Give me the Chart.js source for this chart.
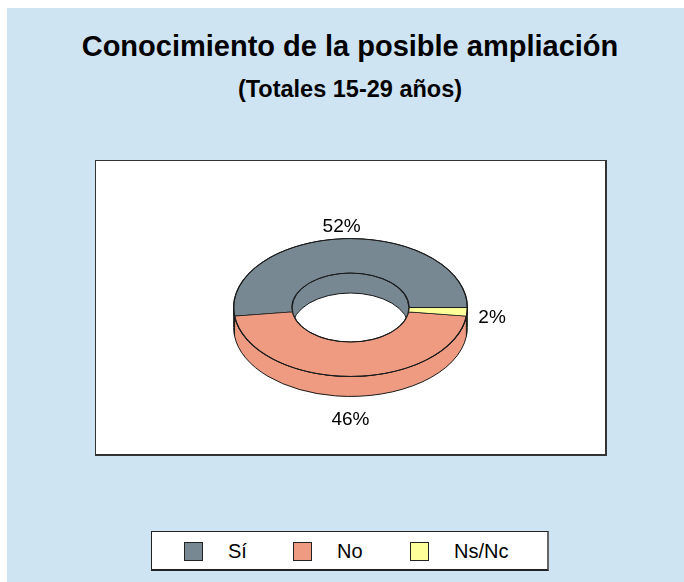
<!DOCTYPE html>
<html>
<head>
<meta charset="utf-8">
<script src="https://cdn.jsdelivr.net/npm/chart.js@4/dist/chart.umd.min.js"></script>
<style>
  body { margin: 0; background: #fff; font-family: 'Liberation Sans', Arial, sans-serif; }
  #fondo { position: absolute; left: 7px; top: 8px; width: 677px; height: 574px; background: #cfe4f3; }
  .titulo { position: absolute; left: 0; width: 700px; text-align: center; font-weight: bold; color: #000; }
  #t1 { top: 30px; font-size: 29px; }
  #t2 { top: 76px; font-size: 23.5px; }
  #caja { position: absolute; left: 95px; top: 160px; width: 509px; height: 293px; background: #fff;
          border: 1px solid #333; border-right-width: 2px; border-bottom-width: 2px; }
  #leyenda { position: absolute; left: 151px; top: 531px; width: 395px; height: 37px; background: #fff;
             border: 1px solid #222; border-right: 2px solid #666; border-bottom-width: 2px; }
  .item { position: absolute; top: 8px; font-size: 20px; line-height: 22px; }
  .item i { position: absolute; top: 2px; width: 17px; height: 17px; border: 1px solid #222; }
  .item span { position: absolute; white-space: nowrap; }
</style>
</head>
<body>
<div id="fondo"></div>
<div class="titulo" id="t1">Conocimiento de la posible ampliación</div>
<div class="titulo" id="t2">(Totales 15-29 años)</div>
<div id="caja"><canvas id="grafico" width="509" height="293"></canvas></div>
<div id="leyenda"></div>
<script>
// datos
const categorias = ['Sí', 'No', 'Ns/Nc'];
const valores = [52, 46, 2];
const colores = ['#778893', '#ee9b82', '#ffff99'];

const achatado = 0.59;   // relación alto/ancho de la elipse
const grosor = 20;       // altura del anillo en píxeles

// leyenda a mano, como en el original
const posLeyenda = [32, 141, 258];
const leyenda = document.getElementById('leyenda');
categorias.forEach(function (c, i) {
	const d = document.createElement('div');
	d.className = 'item';
	d.style.left = posLeyenda[i] + 'px';
	d.innerHTML = '<i style="background:' + colores[i] + '"></i><span style="left:44px">' + c + '</span>';
	leyenda.appendChild(d);
});

// dibuja el canto (delantero o trasero) de un sector
function canto(ctx, cx, cy, r, s, e, color, delante) {
	for (let n = -1; n <= 2; n++) {
		const base = 2 * Math.PI * n + (delante ? 0 : Math.PI);
		const lo = Math.max(s, base), hi = Math.min(e, base + Math.PI);
		if (hi <= lo) continue;
		ctx.beginPath();
		ctx.ellipse(cx, cy, r, r * achatado, 0, Math.PI - lo, Math.PI - hi, true);
		ctx.ellipse(cx, cy + grosor, r, r * achatado, 0, Math.PI - hi, Math.PI - lo, false);
		ctx.closePath();
		ctx.fillStyle = color;
		ctx.fill();
		ctx.strokeStyle = '#1a1a1a';
		ctx.lineWidth = 1;
		ctx.stroke();
	}
}

const anillo3d = {
	id: 'anillo3d',
	beforeDatasetsDraw(chart) {
		const ctx = chart.ctx;
		const arcos = chart.getDatasetMeta(0).data;
		const cx = arcos[0].x, cy = arcos[0].y;
		arcos.forEach(function (a, i) {
			canto(ctx, cx, cy, a.outerRadius, a.startAngle, a.endAngle, colores[i], true);
		});
		ctx.save();
		ctx.translate(cx, cy);
		ctx.scale(-1, achatado);
		ctx.translate(-cx, -cy);
	},
	afterDatasetsDraw(chart) {
		const ctx = chart.ctx;
		ctx.restore();
		const arcos = chart.getDatasetMeta(0).data;
		const cx = arcos[0].x, cy = arcos[0].y;
		const ri = arcos[0].innerRadius, re = arcos[0].outerRadius;

		// pared interior del agujero
		ctx.save();
		ctx.beginPath();
		ctx.ellipse(cx, cy, ri, ri * achatado, 0, 0, 2 * Math.PI);
		ctx.clip();
		arcos.forEach(function (a, i) {
			canto(ctx, cx, cy, ri, a.startAngle, a.endAngle, colores[i], false);
		});
		ctx.restore();
		ctx.beginPath();
		ctx.ellipse(cx, cy, ri, ri * achatado, 0, 0, 2 * Math.PI);
		ctx.strokeStyle = '#1a1a1a';
		ctx.lineWidth = 1;
		ctx.stroke();
		ctx.beginPath();
		ctx.ellipse(cx, cy, re, re * achatado, 0, 0, 2 * Math.PI);
		ctx.stroke();

		// etiquetas de porcentaje
		ctx.fillStyle = '#000';
		ctx.font = '19px "Liberation Sans", Arial, sans-serif';
		ctx.textAlign = 'center';
		ctx.textBaseline = 'middle';
		arcos.forEach(function (a, i) {
			const psi = Math.PI - (a.startAngle + a.endAngle) / 2;
			const r = re + 25;
			const x = cx + r * Math.cos(psi);
			const y = cy + r * achatado * Math.sin(psi) + Math.max(0, Math.sin(psi)) * (grosor + 6) + 3;
			ctx.fillText(valores[i] + '%', x, y);
		});
	}
};

new Chart(document.getElementById('grafico'), {
	type: 'doughnut',
	data: {
		labels: categorias,
		datasets: [{
			data: valores,
			backgroundColor: colores,
			borderColor: '#1a1a1a',
			borderWidth: 1.3
		}]
	},
	options: {
		responsive: false,
		animation: false,
		events: [],
		rotation: 270,
		cutout: '50%',
		layout: { padding: { top: 29, bottom: 29 } },
		plugins: { legend: { display: false }, tooltip: { enabled: false } }
	},
	plugins: [anillo3d]
});
</script>
</body>
</html>
